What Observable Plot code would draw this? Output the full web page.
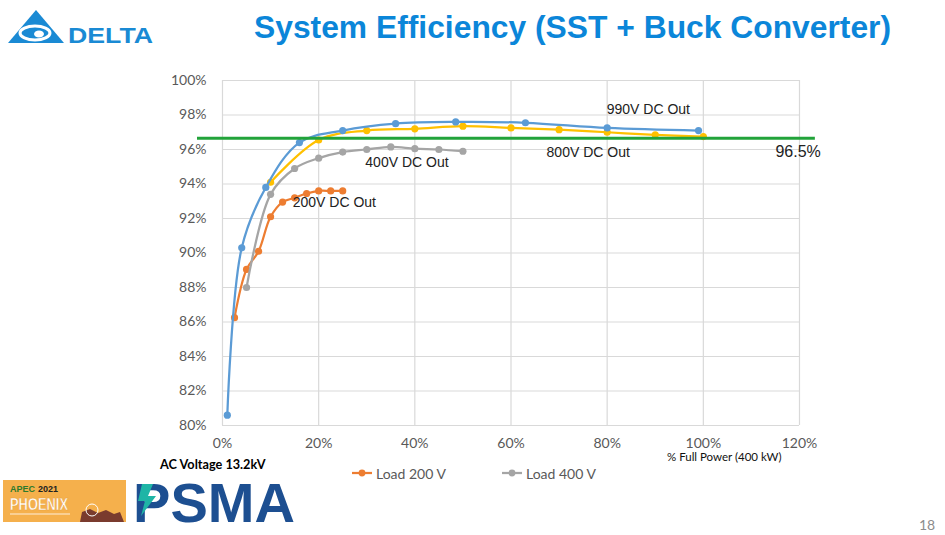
<!DOCTYPE html>
<html>
<head>
<meta charset="utf-8">
<script src="https://cdn.jsdelivr.net/npm/d3@7"></script>
<script src="https://cdn.jsdelivr.net/npm/@observablehq/plot@0.6"></script>
<style>
  html, body { margin: 0; padding: 0; background: #fff; }
  #page { position: relative; width: 945px; height: 535px; overflow: hidden; background: #fff; }
  #chart { position: absolute; left: 0; top: 0; }
  .abs { position: absolute; white-space: nowrap; }
  #title { left: 254px; top: 9px; font: bold 31.8px "Liberation Sans", Arial, sans-serif; color: #0b86d9; }
  #xlabel { left: 667px; top: 450px; font: 11.5px Lato, sans-serif; color: #111; }
  #acv { left: 160px; top: 456px; font: bold 12.7px Lato, sans-serif; color: #000; }
  #pagenum { left: 919px; top: 516px; font: 14px Lato, sans-serif; color: #8c8c8c; }
  .leg { top: 464px; font: 14px Lato, sans-serif; color: #595959; display: flex; align-items: center; }
</style>
</head>
<body>
<div id="page">
  <div id="chart"></div>
  <div id="title" class="abs">System Efficiency (SST + Buck Converter)</div>
  <div id="xlabel" class="abs">% Full Power (400 kW)</div>
  <div id="acv" class="abs">AC Voltage 13.2kV</div>
  <div id="pagenum" class="abs">18</div>
  <div id="legend"></div>
  <svg class="abs" style="left:0;top:0" width="160" height="50">
    <polygon points="36,10 8,43 64,43" fill="#1a8ad4"/>
    <ellipse cx="35" cy="33" rx="15" ry="7" fill="none" stroke="#fff" stroke-width="3"/>
    <ellipse cx="39" cy="34" rx="5" ry="3.5" fill="#fff"/>
    <text x="68" y="43" font-family="Liberation Sans, Arial" font-weight="bold" font-size="22" fill="#1a8ad4" textLength="85" lengthAdjust="spacingAndGlyphs">DELTA</text>
  </svg>
  <svg class="abs" style="left:0;top:468px;overflow:visible" width="300" height="67">
    <rect x="3" y="12" width="123" height="42" fill="#f5b04c"/>
    <text x="10" y="24" font-family="Liberation Sans, Arial" font-weight="bold" font-size="9" fill="#2d7a2d">APEC</text>
    <text x="38" y="24" font-family="Liberation Sans, Arial" font-weight="bold" font-size="9" fill="#222">2021</text>
    <text x="10" y="42" font-family="Liberation Sans, Arial" font-weight="bold" font-size="17" fill="#fff" stroke="#e9a23a" stroke-width="0.5" textLength="58" lengthAdjust="spacingAndGlyphs">PHOENIX</text>
    <line x1="10" y1="46" x2="70" y2="46" stroke="#fff" stroke-width="0.8"/>
    <path d="M80,54 L82,44 L90,41 L98,45 L106,42 L114,46 L120,44 L124,54 Z" fill="#7a3b2e"/>
    <circle cx="92" cy="42" r="6" fill="none" stroke="#fff" stroke-width="1"/>
    <text x="133" y="54" font-family="Liberation Sans, Arial" font-weight="bold" font-size="56" fill="#1d4f91" textLength="162" lengthAdjust="spacingAndGlyphs">PSMA</text>
    <path d="M142,16 L153,16 L148,28 L156,28 L141,48 L145,33 L138,33 Z" fill="#1fb5a6"/>
  </svg>
</div>
<script>
// ---- data ----
const xTicks = [0, 20, 40, 60, 80, 100, 120];
const yTicks = [80, 82, 84, 86, 88, 90, 92, 94, 96, 98, 100];

const load200x = [2.5, 5, 7.5, 10, 12.5, 15, 17.5, 20, 22.5, 25];
const load200y = [86.25, 89.05, 90.1, 92.1, 92.95, 93.2, 93.45, 93.6, 93.6, 93.6];

const load400x = [5, 10, 15, 20, 25, 30, 35, 40, 45, 50];
const load400y = [88.0, 93.4, 94.9, 95.5, 95.85, 96.0, 96.15, 96.05, 96.0, 95.9];

const load800x = [10, 20, 30, 40, 50, 60, 70, 80, 90, 100];
const load800y = [94.1, 96.55, 97.1, 97.2, 97.35, 97.25, 97.15, 97.0, 96.85, 96.75];

const load990x = [1, 4, 9, 16, 25, 36, 48.5, 63, 80, 99];
const load990y = [80.6, 90.3, 93.8, 96.4, 97.1, 97.5, 97.6, 97.55, 97.25, 97.1];

const seriesNames = ["Load 200 V", "Load 400 V", "Load 800 V", "Load 990 V"];
const seriesColors = ["#ed7d31", "#a5a5a5", "#ffc000", "#5b9bd5"];

const targetValue = 96.65;       // green reference line
const targetSpan = [-5.2, 123.3]; // extent of the green line in x units
const targetLabel = "96.5%";

const annotations = [
  {x: 79.9, y: 98.3, text: "990V DC Out"},
  {x: 67.4, y: 95.85, text: "800V DC Out"},
  {x: 29.7, y: 95.22, text: "400V DC Out"},
  {x: 14.6, y: 92.9, text: "200V DC Out"}
];
const targetAnno = [{x: 115.0, y: 95.85, text: targetLabel}];

// ---- build table ----
const xs = [load200x, load400x, load800x, load990x];
const ys = [load200y, load400y, load800y, load990y];
const table = seriesNames.map((name, i) => xs[i].map((x, j) => ({series: name, x, y: ys[i][j]})));

const seriesMarks = table.flatMap((rows, i) => [
  Plot.line(rows, {x: "x", y: "y", stroke: seriesColors[i], strokeWidth: 2.25, curve: "catmull-rom"}),
  Plot.dot(rows, {x: "x", y: "y", fill: seriesColors[i], r: 3.6, stroke: "none"})
]);

const chart = Plot.plot({
  width: 945,
  height: 535,
  marginLeft: 222,
  marginRight: 146,
  marginTop: 80,
  marginBottom: 110,
  style: {fontFamily: "Lato, sans-serif", fontSize: "14px", color: "#595959", background: "transparent", overflow: "visible"},
  x: {domain: [0, 120], ticks: xTicks, tickFormat: d => d + "%", tickSize: 0, tickPadding: 13, label: null},
  y: {domain: [80, 100], ticks: yTicks, tickFormat: d => d + "%", tickSize: 0, tickPadding: 16, label: null},
  marks: [
    Plot.ruleX(xTicks, {stroke: "#d9d9d9", strokeWidth: 1.2}),
    Plot.ruleY(yTicks, {stroke: "#d9d9d9", strokeWidth: 1.2}),
    ...seriesMarks,
    Plot.text(annotations, {x: "x", y: "y", text: "text", textAnchor: "start", fontSize: 14, fill: "#222", fontFamily: "Liberation Sans, Arial, sans-serif"}),
    Plot.text(targetAnno, {x: "x", y: "y", text: "text", textAnchor: "start", fontSize: 16, fill: "#222", fontFamily: "Liberation Sans, Arial, sans-serif"}),
    Plot.ruleY([targetValue], {x1: targetSpan[0], x2: targetSpan[1], stroke: "#22a33a", strokeWidth: 3})
  ]
});
document.getElementById("chart").appendChild(chart);

// ---- legend (only the two visible entries) ----
const legendLeft = [352, 502];
const legend = document.getElementById("legend");
[0, 1].forEach((i, k) => {
  const el = document.createElement("div");
  el.className = "abs leg";
  el.style.left = legendLeft[k] + "px";
  el.innerHTML = `<svg width="24" height="18"><line x1="0" y1="9" x2="20" y2="9" stroke="${seriesColors[i]}" stroke-width="2.25"/><circle cx="10" cy="9" r="3.4" fill="${seriesColors[i]}"/></svg><span>${seriesNames[i]}</span>`;
  legend.appendChild(el);
});
</script>
</body>
</html>
